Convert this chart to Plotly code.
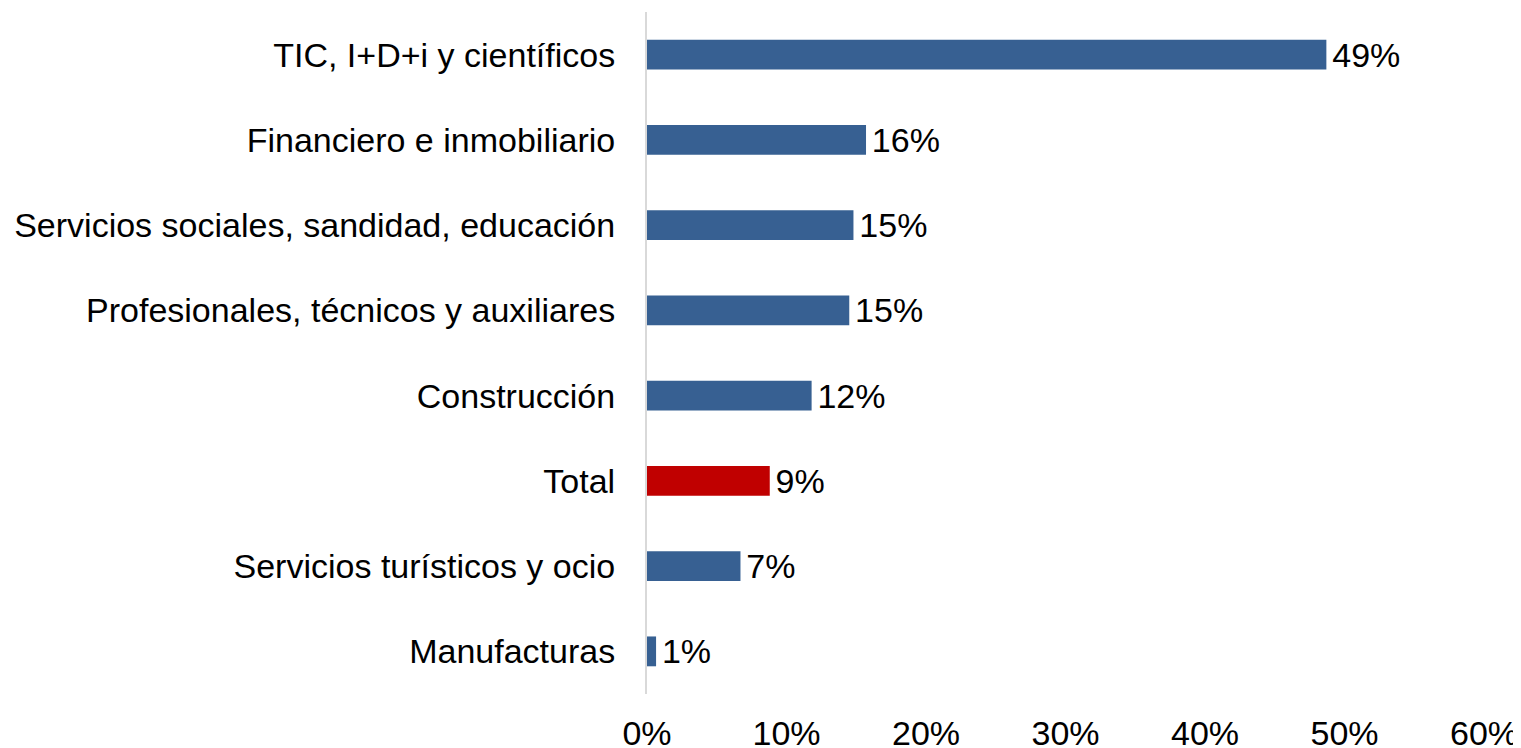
import plotly.graph_objects as go

categories = [
    "TIC, I+D+i y científicos",
    "Financiero e inmobiliario",
    "Servicios sociales, sandidad, educación",
    "Profesionales, técnicos y auxiliares",
    "Construcción",
    "Total",
    "Servicios turísticos y ocio",
    "Manufacturas",
]
values = [0.487, 0.157, 0.148, 0.145, 0.118, 0.088, 0.067, 0.0065]
labels = ["49%", "16%", "15%", "15%", "12%", "9%", "7%", "1%"]
tick_vals = [0, 0.1, 0.2, 0.3, 0.4, 0.5, 0.6]
tick_text = ["0%", "10%", "20%", "30%", "40%", "50%", "60%"]

BLUE = "#376092"
RED = "#C00000"
colors = [RED if c == "Total" else BLUE for c in categories]

FONT = "Arial, Liberation Sans, sans-serif"
FS = 34

fig = go.Figure(
    go.Bar(
        x=values,
        y=categories,
        orientation="h",
        marker=dict(color=colors, line=dict(width=0)),
        width=0.35,
        text=labels,
        texttemplate="\u200a%{text}",
        textposition="outside",
        constraintext="none",
        textfont=dict(family=FONT, size=FS, color="#000000"),
        cliponaxis=False,
        hoverinfo="skip",
    )
)

fig.update_layout(
    width=1513,
    height=740,
    margin=dict(l=639, r=37, t=4, b=54),
    paper_bgcolor="white",
    plot_bgcolor="white",
    showlegend=False,
    font=dict(family=FONT, size=FS, color="#000000"),
    uniformtext=dict(mode=False),
)
fig.update_xaxes(
    range=[0, 0.6],
    tickvals=tick_vals,
    ticktext=tick_text,
    showgrid=False,
    zeroline=False,
    showline=False,
    ticks="",
    automargin=False,
    ticklabelstandoff=16,
    tickfont=dict(family=FONT, size=FS, color="#000000"),
)
fig.update_yaxes(
    range=[7.5, -0.5],
    showgrid=False,
    zeroline=False,
    showline=True,
    linecolor="#D9D9D9",
    linewidth=2,
    ticks="",
    automargin=False,
    ticklabelstandoff=23,
    tickfont=dict(family=FONT, size=FS, color="#000000"),
)

fig.write_html("out.html")
